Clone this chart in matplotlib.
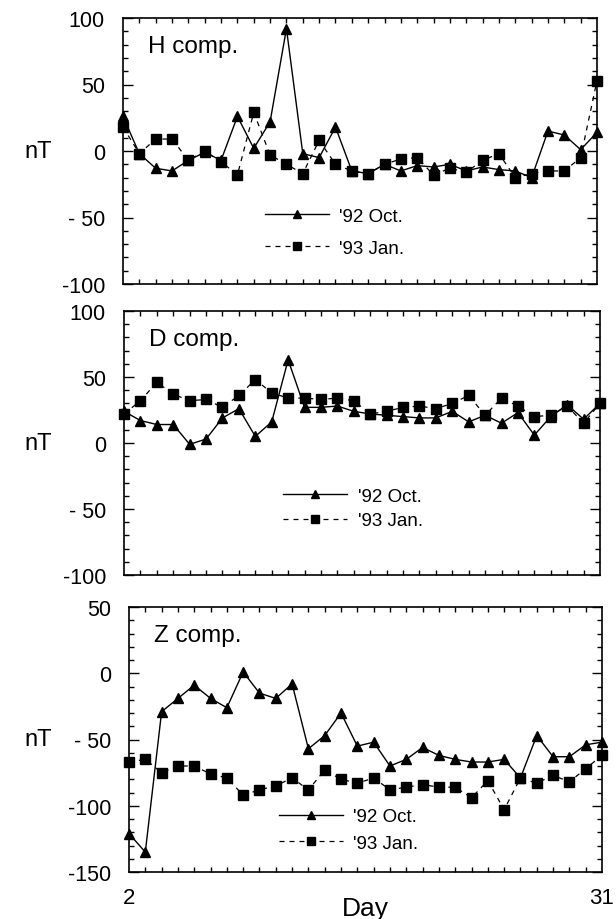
import matplotlib
matplotlib.use("Agg")
import matplotlib.pyplot as plt
from matplotlib.ticker import MultipleLocator, FixedLocator, FixedFormatter

plt.rcParams['font.family'] = ['Liberation Sans', 'DejaVu Sans']

days = list(range(2, 32))

h_oct = [26, -2, -13, -15, -7, -1, -7, 26, 2, 22, 92, -2, -5, 18, -15, -17,
         -10, -15, -11, -12, -10, -15, -12, -14, -15, -20, 15, 12, 1, 14]
h_jan = [18, -2, 9, 9, -7, 0, -8, -18, 29, -3, -10, -17, 8, -10, -15, -17,
         -10, -6, -5, -18, -13, -16, -7, -2, -20, -17, -15, -15, -5, 53]

d_oct = [24, 17, 14, 14, -1, 3, 19, 26, 5, 16, 63, 27, 27, 28, 24, 22,
         21, 20, 19, 19, 24, 16, 21, 15, 23, 6, 20, 29, 18, 30]
d_jan = [22, 32, 46, 37, 32, 33, 27, 36, 48, 38, 34, 34, 33, 34, 32, 22,
         24, 27, 28, 26, 30, 36, 21, 34, 28, 20, 21, 28, 15, 30]

z_oct = [-121, -135, -29, -19, -9, -19, -26, 1, -15, -19, -8, -57, -47, -30,
         -55, -52, -70, -65, -56, -62, -65, -67, -67, -65, -79, -47, -63, -63,
         -54, -52]
z_jan = [-67, -65, -75, -70, -70, -76, -79, -92, -88, -85, -79, -88, -73, -80,
         -83, -79, -88, -86, -84, -86, -86, -94, -81, -103, -79, -83, -77, -82,
         -72, -62]

panel_titles = ["H comp.", "D comp.", "Z comp."]
series_labels = ["'92 Oct.", "'93 Jan."]
ylims = [(-100, 100), (-100, 100), (-150, 50)]
yticks = [[-100, -50, 0, 50, 100], [-100, -50, 0, 50, 100], [-150, -100, -50, 0, 50]]
yticklabels = [["-100", "- 50", "0", "50", "100"],
               ["-100", "- 50", "0", "50", "100"],
               ["-150", "-100", "- 50", "0", "50"]]
xticklabels = ["2", "31"]

W, H = 616, 920
fig = plt.figure(figsize=(W / 100, H / 100), dpi=100)

# pixel boxes (left, top, right, bottom)
boxes = [(123, 19, 597, 285), (124, 312, 600, 576), (129, 608, 602, 873)]
leg_pos = [(0.300, 0.195, 0.80), (0.335, 0.252, 0.38), (0.318, 0.158, 0.50)]

data = [(h_oct, h_jan), (d_oct, d_jan), (z_oct, z_jan)]

for i, ((l, t, r, b), (oct_v, jan_v)) in enumerate(zip(boxes, data)):
    ax = fig.add_axes([l / W, 1 - b / H, (r - l) / W, (b - t) / H])
    ax.plot(days, oct_v, color='black', lw=1.0, marker='^', ms=6.5,
            label=series_labels[0], clip_on=False, zorder=3)
    ax.plot(days, jan_v, color='black', lw=0.9, dashes=(4, 4), marker='s',
            ms=6.5, label=series_labels[1], clip_on=False, zorder=3)
    ax.set_xlim(2, 31)
    ax.set_ylim(*ylims[i])
    ax.yaxis.set_major_locator(FixedLocator(yticks[i]))
    ax.yaxis.set_major_formatter(FixedFormatter(yticklabels[i]))
    ax.yaxis.set_minor_locator(MultipleLocator(10))
    ax.xaxis.set_major_locator(FixedLocator([2, 31]))
    ax.xaxis.set_minor_locator(MultipleLocator(1))
    if i == 2:
        ax.xaxis.set_major_formatter(FixedFormatter(xticklabels))
    else:
        ax.xaxis.set_major_formatter(FixedFormatter(["", ""]))
    ax.tick_params(axis='both', which='both', direction='in', top=True,
                   right=True, width=1.0, colors='black')
    ax.tick_params(axis='y', which='major', length=7, labelsize=15.5, pad=13)
    ax.tick_params(axis='y', which='minor', length=3.5)
    ax.tick_params(axis='x', which='major', length=0, labelsize=16, pad=11)
    ax.tick_params(axis='x', which='minor', length=3.5)
    for s in ax.spines.values():
        s.set_linewidth(1.2)
    ax.text(0.053, 0.935, panel_titles[i], transform=ax.transAxes,
            fontsize=17.5, va='top', ha='left')
    lx, ly, lsp = leg_pos[i]
    ax.legend(loc='center left', bbox_to_anchor=(lx, ly), frameon=False,
              fontsize=13.5, handlelength=3.4, handletextpad=0.55,
              labelspacing=lsp, borderpad=0, borderaxespad=0, numpoints=1,
              markerscale=0.85)
    fig.text(38 / W, 1 - ((t + b) / 2) / H, "nT", fontsize=17,
             ha='center', va='center')
    if i == 2:
        ax.set_xlabel("Day", fontsize=19, labelpad=-9)

fig.savefig("out.png", dpi=100)
